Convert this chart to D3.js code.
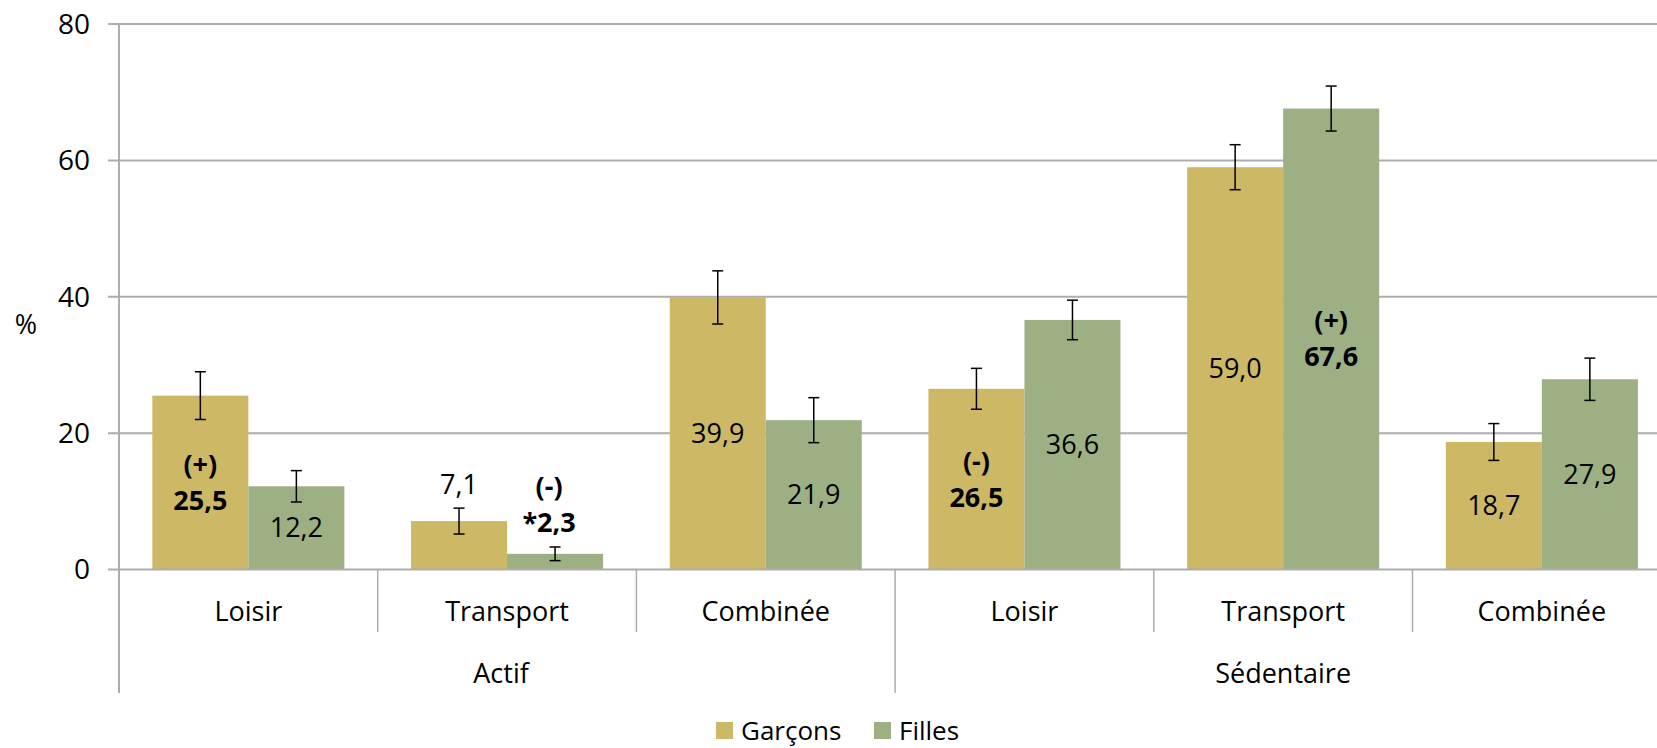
<!DOCTYPE html>
<html>
<head>
<meta charset="utf-8">
<script src="https://cdn.jsdelivr.net/npm/d3@7"></script>
<style>
  body { margin: 0; background: #fff; }
  text { font-family: "Open Sans", sans-serif; fill: #000; }
</style>
</head>
<body>
<div id="chart"></div>
<script>
// categories
const groups = ["Actif", "Sédentaire"];
const types = ["Loisir", "Transport", "Combinée"];
const series = ["Garçons", "Filles"];
const yTicks = [0, 20, 40, 60, 80];

// values (%) and error bar half-widths
const garcons = [25.5, 7.1, 39.9, 26.5, 59.0, 18.7];
const filles = [12.2, 2.3, 21.9, 36.6, 67.6, 27.9];
const garconsErr = [3.5, 1.9, 3.9, 3.0, 3.3, 2.7];
const fillesErr = [2.3, 1.0, 3.3, 2.9, 3.3, 3.1];

// label annotations
const garconsNote = ["(+)", "", "", "(-)", "", ""];
const fillesNote = ["", "(-)", "", "", "(+)", ""];
const garconsStar = ["", "", "", "", "", ""];
const fillesStar = ["", "*", "", "", "", ""];
const garconsBold = [true, false, false, true, false, false];
const fillesBold = [false, true, false, false, true, false];
const garconsAbove = [false, true, false, false, false, false];
const fillesAbove = [false, true, false, false, false, false];

const colors = {"Garçons": "#CDB866", "Filles": "#9CB083"};

const W = 1657, H = 748;
const x0 = 119, band = 258.7;
const y0 = 569.5, yTop = 24;
const cats = [];
groups.forEach(g => types.forEach(t => cats.push(g + "|" + t)));

const svg = d3.select("#chart").append("svg")
    .attr("width", W).attr("height", H);

const x = d3.scaleBand().domain(cats).range([x0, x0 + band * cats.length]).padding(0);
const xs = d3.scaleBand().domain(series).range([0, band]).paddingInner(0).paddingOuter(0.347);
const y = d3.scaleLinear().domain([0, 80]).range([y0, yTop]);

const gridColor = "#ADADAD";

// gridlines + ticks
svg.append("g").selectAll("line")
  .data(yTicks.filter(d => d > 0))
  .enter().append("line")
  .attr("x1", x0 - 11).attr("x2", W)
  .attr("y1", d => y(d)).attr("y2", d => y(d))
  .attr("stroke", gridColor).attr("stroke-width", 2);

svg.append("g").selectAll("text")
  .data(yTicks)
  .enter().append("text")
  .attr("x", 90).attr("y", d => y(d))
  .attr("dy", "0.35em")
  .attr("text-anchor", "end")
  .style("font-size", "28px")
  .text(d => d);

svg.append("text")
  .attr("x", 26).attr("y", 325).attr("dy", "0.35em")
  .attr("text-anchor", "middle")
  .style("font-size", "27px")
  .text("%");

// bars
const rows = [];
cats.forEach((c, i) => {
  rows.push({c, s: "Garçons", v: garcons[i], e: garconsErr[i], note: garconsNote[i], star: garconsStar[i], bold: garconsBold[i], above: garconsAbove[i]});
  rows.push({c, s: "Filles", v: filles[i], e: fillesErr[i], note: fillesNote[i], star: fillesStar[i], bold: fillesBold[i], above: fillesAbove[i]});
});

svg.append("g").selectAll("rect")
  .data(rows)
  .enter().append("rect")
  .attr("x", d => x(d.c) + xs(d.s))
  .attr("y", d => y(d.v))
  .attr("width", xs.bandwidth())
  .attr("height", d => y0 - y(d.v))
  .attr("fill", d => colors[d.s]);

// x axis line and category separators
svg.append("line")
  .attr("x1", x0 - 11).attr("x2", W)
  .attr("y1", y0).attr("y2", y0)
  .attr("stroke", gridColor).attr("stroke-width", 2);

svg.append("line")
  .attr("x1", x0).attr("x2", x0)
  .attr("y1", yTop).attr("y2", 693)
  .attr("stroke", gridColor).attr("stroke-width", 2);

d3.range(1, cats.length + 1).forEach(i => {
  const xx = x0 + band * i;
  const isGroup = i % types.length === 0;
  svg.append("line")
    .attr("x1", xx).attr("x2", xx)
    .attr("y1", y0).attr("y2", isGroup ? 693 : 632)
    .attr("stroke", gridColor).attr("stroke-width", 1.5);
});

// error bars
const eb = svg.append("g").attr("stroke", "#000").attr("stroke-width", 1.5);
rows.forEach(d => {
  const cx = x(d.c) + xs(d.s) + xs.bandwidth() / 2;
  const hi = y(d.v + d.e), lo = y(d.v - d.e);
  eb.append("line").attr("x1", cx).attr("x2", cx).attr("y1", hi).attr("y2", lo);
  eb.append("line").attr("x1", cx - 5.5).attr("x2", cx + 5.5).attr("y1", hi).attr("y2", hi);
  eb.append("line").attr("x1", cx - 5.5).attr("x2", cx + 5.5).attr("y1", lo).attr("y2", lo);
});

// data labels
const fmt = v => d3.format(".1f")(v).replace(".", ",");
const lineH = 36;
rows.forEach(d => {
  const cx = x(d.c) + xs(d.s) + xs.bandwidth() / 2;
  const lines = d.note ? [d.note, d.star + fmt(d.v)] : [d.star + fmt(d.v)];
  let lastY;
  if (d.above) lastY = y(d.v + d.e) - 24;
  else lastY = (y(d.v) + y0) / 2 + (lines.length - 1) * lineH / 2;
  lines.forEach((t, k) => {
    svg.append("text")
      .attr("x", cx - (d.star ? 6 : 0))
      .attr("y", lastY - (lines.length - 1 - k) * lineH)
      .attr("dy", "0.35em")
      .attr("text-anchor", "middle")
      .style("font-size", "27px")
      .style("font-weight", d.bold ? "bold" : "normal")
      .text(t);
  });
});

// category labels
svg.append("g").selectAll("text")
  .data(cats)
  .enter().append("text")
  .attr("x", d => x(d) + band / 2)
  .attr("y", 612).attr("dy", "0.35em")
  .attr("text-anchor", "middle")
  .style("font-size", "27px")
  .text(d => d.split("|")[1]);

svg.append("g").selectAll("text")
  .data(groups)
  .enter().append("text")
  .attr("x", (d, i) => x0 + band * types.length * (i + 0.5) - (i === 0 ? 6 : 0))
  .attr("y", 674).attr("dy", "0.35em")
  .attr("text-anchor", "middle")
  .style("font-size", "27px")
  .text(d => d);

// legend
const legX = [716, 874];
const leg = svg.append("g").selectAll("g")
  .data(series)
  .enter().append("g")
  .attr("transform", (d, i) => `translate(${legX[i]},722)`);
leg.append("rect").attr("width", 17).attr("height", 17).attr("fill", d => colors[d]);
leg.append("text")
  .attr("x", 25).attr("y", 8.5).attr("dy", "0.35em")
  .style("font-size", "26px")
  .text(d => d);
</script>
</body>
</html>
